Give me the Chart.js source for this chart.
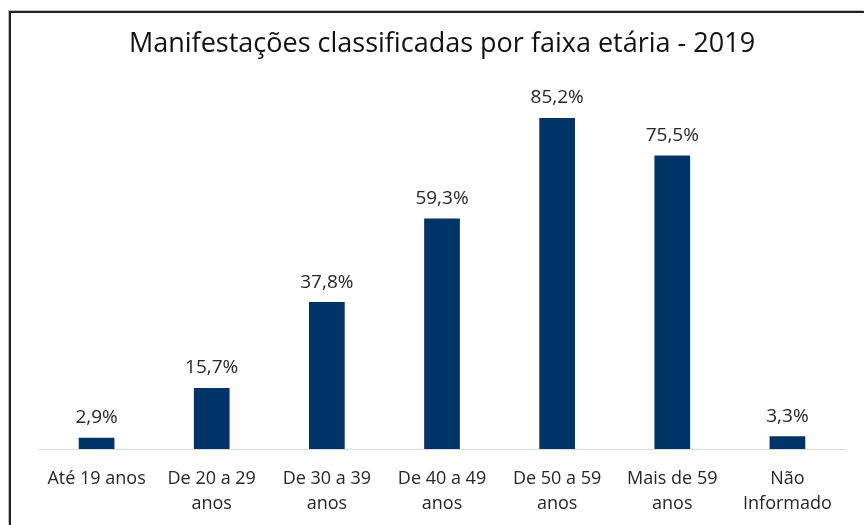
<!DOCTYPE html>
<html><head><meta charset="utf-8">
<script src="https://cdn.jsdelivr.net/npm/chart.js@4"></script>
<style>
html,body{margin:0;padding:0;background:#fff;}
#wrap{position:relative;width:864px;height:525px;}
#frame{position:absolute;left:9px;top:11px;right:0;bottom:0;border-top:2px solid #222;border-left:2px solid #222;box-shadow:-1px -1px 0 #bbb;pointer-events:none;}
canvas{position:absolute;left:0;top:0;}
</style></head><body>
<div id="wrap"><canvas id="c" width="864" height="525"></canvas><div id="frame"></div></div>
<script>
const categories = [["Até 19 anos"],["De 20 a 29","anos"],["De 30 a 39","anos"],["De 40 a 49","anos"],["De 50 a 59","anos"],["Mais de 59","anos"],["Não","Informado"]];
const values = [2.9, 15.7, 37.8, 59.3, 85.2, 75.5, 3.3];
const valueLabels = ["2,9%","15,7%","37,8%","59,3%","85,2%","75,5%","3,3%"];
const titleText = "Manifestações classificadas por faixa etária - 2019";

const labelPlugin = {
  id:'valLabels',
  afterDatasetsDraw(chart){
    const ctx = chart.ctx;
    const meta = chart.getDatasetMeta(0);
    ctx.save();
    ctx.font = '19px "Open Sans"';
    ctx.fillStyle = '#262626';
    ctx.textAlign = 'center';
    ctx.textBaseline = 'middle';
    meta.data.forEach((bar,i)=>{
      ctx.fillText(valueLabels[i], bar.x, bar.y - 20);
    });
    ctx.restore();
  }
};

new Chart(document.getElementById('c'), {
  type:'bar',
  data:{labels:categories, datasets:[{data:values, backgroundColor:'#003366', barPercentage:0.62, categoryPercentage:0.5}]},
  options:{
    responsive:false, animation:false,
    layout:{padding:{left:39,right:19,top:0,bottom:0}},
    plugins:{
      legend:{display:false}, tooltip:{enabled:false},
      title:{display:true, text:titleText, color:'#111', font:{family:'"Open Sans"', size:27, weight:'normal', lineHeight:1.2}, padding:{top:28,bottom:0}}
    },
    scales:{
      y:{display:false, min:0, max:100},
      x:{grid:{display:false, drawTicks:false}, border:{color:'#d9d9d9', width:1},
         afterFit(s){ s.height = 76; },
         ticks:{color:'#262626', padding:17, font:{family:'"Open Sans"', size:18, lineHeight:1.39}, maxRotation:0, autoSkip:false}}
    }
  },
  plugins:[labelPlugin]
});
</script></body></html>
